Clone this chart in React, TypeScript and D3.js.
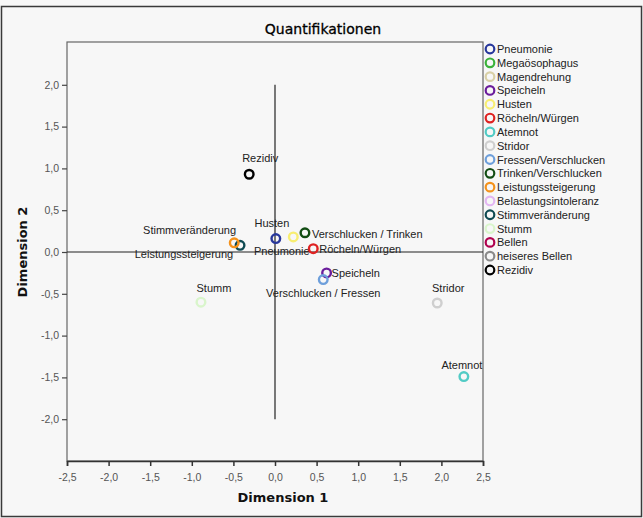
import React, { useEffect, useRef } from 'react';
import * as d3 from 'd3';

// legend categories (all, in SPSS order) with colours
const categories = [
  'Pneumonie', 'Megaösophagus', 'Magendrehung', 'Speicheln', 'Husten',
  'Röcheln/Würgen', 'Atemnot', 'Stridor', 'Fressen/Verschlucken',
  'Trinken/Verschlucken', 'Leistungssteigerung', 'Belastungsintoleranz',
  'Stimmveränderung', 'Stumm', 'Bellen', 'heiseres Bellen', 'Rezidiv'
];
const colors = [
  '#28389c', '#3bb23b', '#d9d0a6', '#6b1d9c', '#f8ee72',
  '#df2222', '#52cbc5', '#cfcfcf', '#6e9fdb',
  '#134d14', '#f4921c', '#e3b6f2',
  '#0f4a52', '#d9f5cb', '#b0034f', '#8a8a8a', '#000000'
];

// plotted points: category, dim1, dim2, label, label offset
const pointCats = [
  'Rezidiv', 'Stimmveränderung', 'Leistungssteigerung', 'Husten', 'Pneumonie',
  'Trinken/Verschlucken', 'Röcheln/Würgen', 'Speicheln', 'Fressen/Verschlucken',
  'Stumm', 'Stridor', 'Atemnot'
];
const dim1 = [-0.31, -0.42, -0.49, 0.22, 0.01, 0.36, 0.46, 0.62, 0.58, -0.89, 1.95, 2.27];
const dim2 = [0.93, 0.08, 0.11, 0.18, 0.16, 0.23, 0.04, -0.25, -0.33, -0.60, -0.61, -1.49];
const pointLabels = [
  'Rezidiv', 'Stimmveränderung', 'Leistungssteigerung', 'Husten', 'Pneumonie',
  'Verschlucken / Trinken', 'Röcheln/Würgen', 'Speicheln', 'Verschlucken / Fressen',
  'Stumm', 'Stridor', 'Atemnot'
];
const labelDx = [11, -4, -1, -4, 6, 7, 6, 5, 0, 13, 11, -2];
const labelDy = [-12, -11, 15, -10, 16, 5, 4, 4, 17, -10, -11, -8];
const labelAnchor = ['middle', 'end', 'end', 'end', 'middle', 'start', 'start', 'start', 'middle', 'middle', 'middle', 'middle'];

const ticks = [-2.5, -2.0, -1.5, -1.0, -0.5, 0.0, 0.5, 1.0, 1.5, 2.0, 2.5];
const yTicks = [-2.0, -1.5, -1.0, -0.5, 0.0, 0.5, 1.0, 1.5, 2.0];

export default function App() {
  const svgRef = useRef<SVGSVGElement>(null);

  useEffect(() => {
    const svg = d3.select(svgRef.current);
    svg.selectAll('*').remove();
    const W = 643, H = 518;
    const m = { left: 67, right: 483, top: 43, bottom: 461 };
    const font = 'Liberation Sans, Arial, sans-serif';
    const wide = 'DejaVu Sans, Verdana, sans-serif';

    svg.append('rect').attr('x', 0).attr('y', 0).attr('width', W).attr('height', H).attr('fill', '#f7f7f7');
    // outer frame
    svg.append('rect').attr('x', 1.5).attr('y', 6.5).attr('width', W - 3).attr('height', H - 8)
      .attr('fill', 'none').attr('stroke', '#3a3a3a').attr('stroke-width', 1.5);

    const x = d3.scaleLinear().domain([-2.5, 2.5]).range([m.left, m.right]);
    const y = d3.scaleLinear().domain([-2.5, 2.5]).range([m.bottom, m.top]);

    svg.append('text').attr('x', 323).attr('y', 34).attr('text-anchor', 'middle')
      .attr('font-family', wide).attr('font-size', 14).attr('fill', '#000')
      .attr('stroke', '#000').attr('stroke-width', 0.3).text('Quantifikationen');

    // plot frame
    svg.append('rect').attr('x', m.left).attr('y', m.top - 1).attr('width', m.right - m.left)
      .attr('height', m.bottom - m.top + 1).attr('fill', '#f7f7f7').attr('stroke', '#666').attr('stroke-width', 1.2);

    const fmt = (d: any) => d3.format('.1f')(d as number).replace('.', ',').replace('−', '-');
    const xAxis = d3.axisBottom(x).tickValues(ticks).tickSize(5).tickFormat(fmt);
    const gx = svg.append('g').attr('transform', `translate(0,${m.bottom})`).call(xAxis);
    gx.select('.domain').attr('stroke', '#333').attr('stroke-width', 1.5);
    gx.selectAll('line').attr('stroke', '#333').attr('stroke-width', 1.5);
    gx.selectAll('text').attr('font-family', font).attr('font-size', 10.5).attr('fill', '#555').attr('dy', '1.1em');

    const yAxis = d3.axisLeft(y).tickValues(yTicks).tickSize(5).tickFormat(fmt);
    const gy = svg.append('g').attr('transform', `translate(${m.left},0)`).call(yAxis);
    gy.select('.domain').remove();
    gy.selectAll('line').attr('stroke', '#444').attr('stroke-width', 1.2);
    gy.selectAll('text').attr('font-family', font).attr('font-size', 10.5).attr('fill', '#555');

    svg.append('text').attr('x', 283).attr('y', 502).attr('text-anchor', 'middle')
      .attr('font-family', wide).attr('font-weight', 'bold').attr('font-size', 13).attr('fill', '#111').text('Dimension 1');
    svg.append('text').attr('transform', `translate(27,252) rotate(-90)`).attr('text-anchor', 'middle')
      .attr('font-family', wide).attr('font-weight', 'bold').attr('font-size', 13).attr('fill', '#111').text('Dimension 2');

    // reference lines
    svg.append('line').attr('x1', x(-2.5)).attr('x2', x(2.5)).attr('y1', y(0)).attr('y2', y(0))
      .attr('stroke', '#222').attr('stroke-width', 1.2);
    svg.append('line').attr('x1', x(0)).attr('x2', x(0)).attr('y1', y(2)).attr('y2', y(-2))
      .attr('stroke', '#222').attr('stroke-width', 1.2);

    const colorOf = d3.scaleOrdinal<string, string>().domain(categories).range(colors);
    const idx = d3.range(pointCats.length);

    svg.append('g').selectAll('text').data(idx).enter().append('text')
      .attr('x', i => x(dim1[i]) + labelDx[i]).attr('y', i => y(dim2[i]) + labelDy[i])
      .attr('text-anchor', i => labelAnchor[i])
      .attr('font-family', font).attr('font-size', 11).attr('fill', '#222')
      .text(i => pointLabels[i]);

    svg.append('g').selectAll('circle').data(idx).enter().append('circle')
      .attr('cx', i => x(dim1[i])).attr('cy', i => y(dim2[i])).attr('r', 4.3)
      .attr('fill', 'none').attr('stroke', i => colorOf(pointCats[i])).attr('stroke-width', 2.4);

    // legend
    const lg = svg.append('g');
    const ly = d3.scaleLinear().domain([0, categories.length - 1]).range([49, 270]);
    categories.forEach((c, i) => {
      lg.append('circle').attr('cx', 490).attr('cy', ly(i)).attr('r', 4.3)
        .attr('fill', 'none').attr('stroke', colors[i]).attr('stroke-width', 2.2);
      lg.append('text').attr('x', 497).attr('y', ly(i) + 4)
        .attr('font-family', font).attr('font-size', 11).attr('fill', '#222').text(c);
    });
  }, []);

  return (
    <div>
      <svg ref={svgRef} width={643} height={518} style={{ position: 'absolute', left: 0, top: 0 }} />
    </div>
  );
}
